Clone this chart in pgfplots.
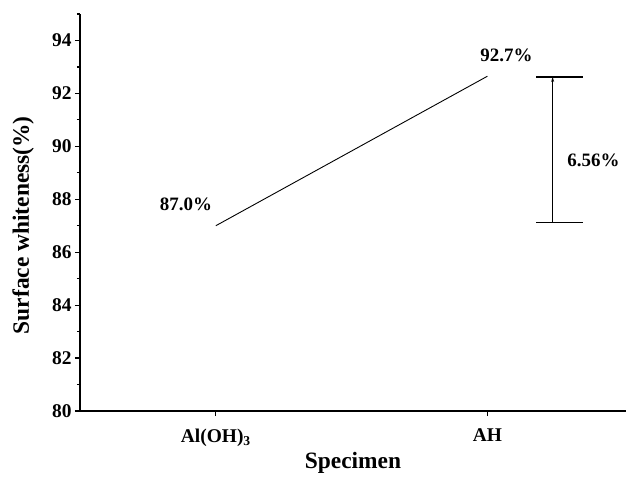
\documentclass[border=0pt]{standalone}
\usepackage{fontspec}
\setmainfont{Liberation Serif}
\usepackage{pgfplots}
\pgfplotsset{compat=1.18}
\usetikzlibrary{arrows.meta}
\begin{document}
\begin{tikzpicture}
\useasboundingbox (-80bp,-71bp) rectangle (551bp,411bp);
\begin{axis}[
  scale only axis, width=546bp, height=397bp,
  at={(0,0)}, anchor=south west,
  xmin=-0.5, xmax=1.51, ymin=80, ymax=95,
  axis lines*=left,
  axis line style={line width=1.8bp},
  xtick={0,1}, xticklabels={Al(OH)\textsubscript{3}, AH},
  ytick={80,82,...,94},
  minor ytick={81,83,...,95},
  minor xtick={},
  tick align=outside,
  major tick length=5bp, minor tick length=3bp,
  tick style={line width=1.2bp, black},
  ticklabel style={font=\bfseries\fontsize{19.5}{22}\selectfont},
  xticklabel style={yshift=-9bp},
  /pgf/number format/assume math mode=true,
  xlabel={Specimen}, ylabel={Surface whiteness(\%)},
  label style={font=\bfseries\fontsize{23.5}{27}\selectfont},
  xlabel style={at={(axis description cs:0.5,-0.1436)}, anchor=base},
  ylabel style={at={(axis description cs:-0.0935,0.468)}, anchor=base},
  clip=false,
]
\addplot[black, line width=0.9bp, mark=none] coordinates {(0,87.0) (1,92.65)};
\addplot[black, line width=1.3bp, mark=none] coordinates {(1.18,92.62) (1.35,92.62)};
\addplot[black, line width=1.3bp, mark=none] coordinates {(1.18,87.13) (1.35,87.13)};
\addplot[black, line width=0.9bp, mark=none, -{Stealth[length=5bp,width=3bp]}] coordinates {(1.24,87.13) (1.24,92.62)};
\node[font=\bfseries\fontsize{19}{22}\selectfont] at (axis cs:-0.11,87.79) {87.0\%};
\node[font=\bfseries\fontsize{19}{22}\selectfont] at (axis cs:1.07,93.44) {92.7\%};
\node[font=\bfseries\fontsize{19}{22}\selectfont] at (axis cs:1.39,89.46) {6.56\%};
\end{axis}
\end{tikzpicture}
\end{document}
